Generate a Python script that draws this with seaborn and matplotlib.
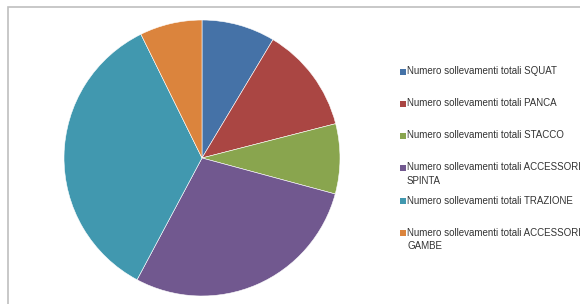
import matplotlib
matplotlib.use("Agg")
import matplotlib.pyplot as plt
import seaborn as sns
from matplotlib.patches import Rectangle

labels = [
    "Numero sollevamenti totali SQUAT",
    "Numero sollevamenti totali PANCA",
    "Numero sollevamenti totali STACCO",
    "Numero sollevamenti totali ACCESSORI\nSPINTA",
    "Numero sollevamenti totali TRAZIONE",
    "Numero sollevamenti totali ACCESSORI\nGAMBE",
]
values = [8.6, 12.4, 8.2, 28.6, 34.9, 7.3]
colors = ["#4572A7", "#AA4643", "#89A54E", "#71588F", "#4198AF", "#DB843D"]

sns.set_theme(style="white")
plt.rcParams['font.family'] = ['Liberation Sans', 'DejaVu Sans']
palette = sns.color_palette(colors)

W, H = 580, 304
fig = plt.figure(figsize=(W / 100, H / 100), dpi=100)
fig.patch.set_facecolor("white")

# chart area border (only top/left visible)
fig.add_artist(Rectangle((8 / W, -0.1), 1.5, (H - 7) / H + 0.1, transform=fig.transFigure,
                         fill=False, edgecolor="#BFBFBF", linewidth=1.2))

cx, cy, r = 202, 158, 138
ax = fig.add_axes([(cx - r) / W, (H - cy - r) / H, 2 * r / W, 2 * r / H])
wedges, _ = ax.pie(values, colors=palette, startangle=90, counterclock=False, radius=1,
                   wedgeprops=dict(edgecolor="white", linewidth=0.4))
ax.set_xlim(-1, 1)
ax.set_ylim(-1, 1)
ax.set_aspect("equal")
ax.axis("off")

# legend
ys = [72, 104, 136, 168, 201, 233]
for lab, col, y in zip(labels, palette, ys):
    fig.add_artist(Rectangle((400 / W, (H - y - 3) / H), 6 / W, 6 / H,
                             transform=fig.transFigure, facecolor=col, edgecolor="none"))
    fig.text(407 / W, (H - y + 5.5) / H, lab, ha="left", va="top", fontsize=7,
             color="#333333", linespacing=1.4)

fig.savefig("out.png", dpi=100)
